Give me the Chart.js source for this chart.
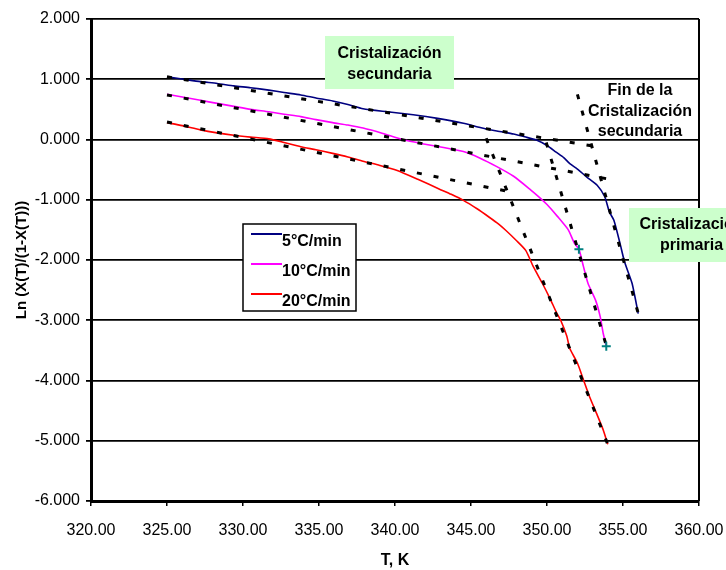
<!DOCTYPE html>
<html lang="es">
<head>
<meta charset="utf-8">
<title>Ln (X(T)/(1-X(T))) frente a T</title>
<script src="https://cdn.jsdelivr.net/npm/chart.js@4.4.1/dist/chart.umd.min.js"></script>
<style>
  html, body { margin: 0; padding: 0; background: #fff; }
  #wrap { width: 726px; height: 570px; position: relative; }
</style>
</head>
<body>
<div id="wrap"><canvas id="chartKinetics" width="726" height="570"></canvas></div>
<script>
/* ---------- Curvas medidas: Ln(X/(1-X)) frente a T (K) ---------- */
const T_5   = [325, 326.1, 327.2, 328.3, 329.4, 330.5, 331.7, 332.7, 333.8, 334.8, 335.9, 336.9, 337.9,
               339.5, 341.2, 342.8, 344.5, 345.6, 346.7, 347.8, 348.6, 349.3, 350.0, 350.6, 351.1, 351.5,
               352.0, 352.6, 353.3, 353.8, 354.1, 354.4, 354.8, 355.1, 355.6, 356.0];
const LN_5  = [1.04, 1.00, 0.96, 0.93, 0.89, 0.86, 0.82, 0.78, 0.74, 0.69, 0.64, 0.58, 0.51,
               0.46, 0.41, 0.35, 0.27, 0.20, 0.14, 0.09, 0.04, -0.01, -0.10, -0.21, -0.30, -0.40,
               -0.49, -0.62, -0.76, -0.95, -1.20, -1.34, -1.72, -2.03, -2.39, -2.89];

const T_10  = [325, 326.1, 327.2, 328.3, 329.4, 330.5, 331.7, 332.7, 333.8, 334.8, 335.9, 336.9, 337.9,
               339.2, 340.5, 341.8, 343.1, 344.5, 345.6, 346.7, 347.8, 348.9, 349.5, 350.0, 350.7, 351.4,
               351.8, 352.1, 352.4, 352.7, 353.2, 353.5, 353.7, 353.9];
const LN_10 = [0.75, 0.70, 0.65, 0.60, 0.55, 0.50, 0.46, 0.42, 0.38, 0.33, 0.28, 0.24, 0.19,
               0.10, 0.00, -0.07, -0.13, -0.20, -0.31, -0.45, -0.61, -0.83, -0.96, -1.08, -1.28, -1.50,
               -1.72, -1.82, -2.11, -2.39, -2.67, -2.94, -3.22, -3.43];

const T_20  = [325, 326, 327.2, 328.3, 329.4, 330.5, 331.7, 332.7, 333.8, 334.8, 335.9, 336.9, 337.9,
               339.0, 340.1, 341.5, 342.9, 343.7, 344.5, 345.4, 346.2, 346.8, 347.3, 348.0, 348.6, 349.1,
               349.7, 350.2, 350.6, 350.9, 351.3, 351.5, 352.0, 352.4, 352.8, 353.3, 353.7, 354.0];
const LN_20 = [0.28, 0.23, 0.16, 0.11, 0.07, 0.04, 0.01, -0.05, -0.12, -0.17, -0.23, -0.29, -0.36,
               -0.43, -0.51, -0.66, -0.82, -0.91, -1.01, -1.15, -1.29, -1.40, -1.51, -1.68, -1.84, -2.11,
               -2.39, -2.64, -2.86, -3.00, -3.26, -3.47, -3.71, -3.99, -4.27, -4.57, -4.82, -5.06];

/* ---------- Rectas de ajuste (extremos) ---------- */
const FIT_SEC_T  = [[325, 353.3], [325, 354.1], [325, 347.6]];
const FIT_SEC_LN = [[1.04, -0.12], [0.74, -0.66], [0.29, -0.87]];
const FIT_PRI_T  = [[352.0, 356.05], [349.95, 353.9], [346.0, 354.0]];
const FIT_PRI_LN = [[0.75, -2.93], [-0.05, -3.42], [0.02, -5.06]];

/* Puntos marcados sobre la curva de 10°C/min */
const MARK_T  = [352.1, 353.9];
const MARK_LN = [-1.82, -3.43];

const SERIES_LABELS = ['5°C/min', '10°C/min', '20°C/min'];
const X_TICKS = [320, 325, 330, 335, 340, 345, 350, 355, 360];
const Y_TICKS = [-6, -5, -4, -3, -2, -1, 0, 1, 2];

(function () {
  'use strict';

  const NAVY    = '#000080';
  const MAGENTA = '#FF00FF';
  const RED     = '#FF0000';
  const TEAL    = '#008080';
  const MINT    = '#CCFFCC';
  const FONT    = "'Liberation Sans', Arial, Helvetica, sans-serif";

  const toPoints = (xs, ys) => xs.map((x, i) => ({ x: x, y: ys[i] }));

  function init() {
    if (typeof Chart === 'undefined') {
      setTimeout(init, 50);
      return;
    }

    Chart.defaults.font.family = FONT;
    Chart.defaults.font.size = 16;
    Chart.defaults.color = '#000';

    const curve = (i, xs, ys, color) => ({
      label: SERIES_LABELS[i],
      data: toPoints(xs, ys),
      showLine: true,
      borderColor: color,
      backgroundColor: color,
      borderWidth: 1.6,
      pointRadius: 0,
      tension: 0.2,
      order: 2,
    });

    const fit = (xs, ys) => ({
      label: 'ajuste',
      data: toPoints(xs, ys),
      showLine: true,
      borderColor: '#000',
      borderWidth: 3,
      borderDash: [5, 12],
      pointRadius: 0,
      order: 1,
    });

    const datasets = [
      curve(0, T_5, LN_5, NAVY),
      curve(1, T_10, LN_10, MAGENTA),
      curve(2, T_20, LN_20, RED),
    ];
    for (let i = 0; i < 3; i++) {
      datasets.push(fit(FIT_SEC_T[i], FIT_SEC_LN[i]));
      datasets.push(fit(FIT_PRI_T[i], FIT_PRI_LN[i]));
    }
    datasets.push({
      label: 'marcas',
      data: toPoints(MARK_T, MARK_LN),
      showLine: false,
      pointStyle: 'cross',
      pointRadius: 4.5,
      pointBorderWidth: 2,
      borderColor: TEAL,
      backgroundColor: TEAL,
      order: 0,
    });

    // Cajas de texto, leyenda y borde derecho del área de trazado
    const overlay = {
      id: 'overlay',
      afterDatasetsDraw(chart) {
        const ctx = chart.ctx;
        const area = chart.chartArea;
        ctx.save();

        ctx.strokeStyle = '#000';
        ctx.lineWidth = 2;
        ctx.beginPath();
        ctx.moveTo(area.right, area.top);
        ctx.lineTo(area.right, area.bottom);
        ctx.stroke();

        ctx.font = 'bold 16px ' + FONT;
        ctx.textAlign = 'center';
        ctx.textBaseline = 'middle';

        const note = (lines, cx, cy, box) => {
          if (box) {
            ctx.fillStyle = MINT;
            ctx.fillRect(box[0], box[1], box[2], box[3]);
          }
          ctx.fillStyle = '#000';
          lines.forEach((t, i) => ctx.fillText(t, cx, cy + i * 20.5));
        };

        note(['Cristalización', 'secundaria'], 389.5, 54, [325, 36, 129, 53]);
        note(['Cristalización', 'primaria'], 691.5, 225, [629, 208, 130, 54]);
        note(['Fin de la', 'Cristalización', 'secundaria'], 640, 91, null);

        // leyenda
        ctx.fillStyle = '#fff';
        ctx.fillRect(243, 224, 113, 87);
        ctx.strokeStyle = '#000';
        ctx.lineWidth = 1.5;
        ctx.strokeRect(243, 224, 113, 87);
        ctx.textAlign = 'left';
        [NAVY, MAGENTA, RED].forEach((c, i) => {
          const y = 234 + i * 30;
          ctx.strokeStyle = c;
          ctx.lineWidth = 2;
          ctx.beginPath();
          ctx.moveTo(251, y);
          ctx.lineTo(282, y);
          ctx.stroke();
          ctx.fillStyle = '#000';
          ctx.fillText(SERIES_LABELS[i], 282, y + 8);
        });

        ctx.restore();
      },
    };

    new Chart(document.getElementById('chartKinetics'), {
      type: 'scatter',
      data: { datasets: datasets },
      plugins: [overlay],
      options: {
        responsive: false,
        animation: false,
        layout: { padding: { left: 0, top: 19, right: 27, bottom: 0 } },
        plugins: {
          legend: { display: false },
          tooltip: { enabled: false },
        },
        scales: {
          x: {
            type: 'linear',
            min: 320,
            max: 360,
            afterFit: (s) => {
              s.height = 69;
              s.paddingLeft = 0;
              s.paddingRight = 0;
            },
            afterBuildTicks: (s) => { s.ticks = X_TICKS.map((v) => ({ value: v })); },
            ticks: {
              padding: 15,
              maxRotation: 0,
              color: '#000',
              font: { size: 16 },
              callback: (v) => v.toFixed(2),
            },
            grid: { drawOnChartArea: false, drawTicks: true, tickLength: 5, color: '#000', lineWidth: 1.5 },
            border: { display: true, color: '#000', width: 3 },
            title: {
              display: true,
              text: 'T, K',
              color: '#000',
              font: { size: 16, weight: 'bold', lineHeight: 1.2 },
              padding: { top: 0, bottom: 0 },
            },
          },
          y: {
            type: 'linear',
            min: -6,
            max: 2,
            afterFit: (s) => { s.width = 91; },
            afterBuildTicks: (s) => { s.ticks = Y_TICKS.map((v) => ({ value: v })); },
            ticks: {
              padding: 6,
              color: '#000',
              font: { size: 16 },
              callback: (v) => v.toFixed(3),
            },
            grid: { color: '#000', lineWidth: 1.8, tickLength: 5 },
            border: { display: true, color: '#000', width: 3 },
            title: {
              display: true,
              text: 'Ln (X(T)/(1-X(T)))',
              color: '#000',
              font: { size: 15, weight: 'bold', lineHeight: 1.2 },
              padding: { top: 13, bottom: 0 },
            },
          },
        },
      },
    });
  }

  if (document.readyState === 'loading') {
    document.addEventListener('DOMContentLoaded', init);
  } else {
    init();
  }
})();
</script>
</body>
</html>
